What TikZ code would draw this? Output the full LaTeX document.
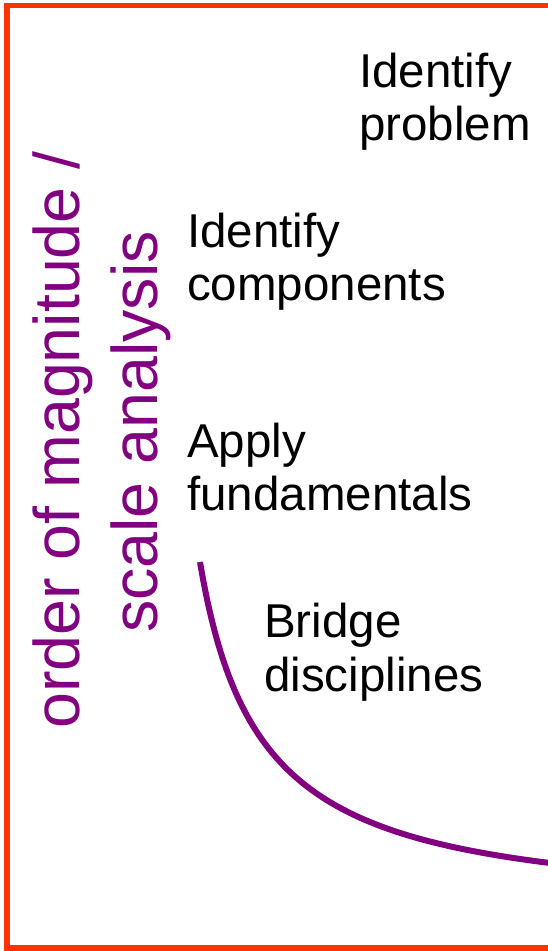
\documentclass[tikz,border=0pt]{standalone}
\usepackage{fontspec}
\setmainfont{Liberation Sans}
\definecolor{frameorange}{HTML}{FF3300}
\definecolor{scalepurple}{RGB}{128,0,128}

\begin{document}
\begin{tikzpicture}[x=1pt,y=-1pt,
  stage/.style={align=left,anchor=base west,inner sep=0pt,
    font=\fontsize{47.5}{53.3}\selectfont},
  axis text/.style={rotate=90,anchor=base,inner sep=0pt,text=scalepurple,
    font=\fontsize{64.5}{78}\selectfont}]
  \clip (0,0) rectangle (548,951);

  % frame, open at the right
  \draw[frameorange, line width=5.5pt] (560,5.5) -- (7,5.5) -- (7,948) -- (560,948);

  % rotated side label
  \node[axis text] (order) at (79,440) {order of magnitude /};
  \node[axis text] (scale) at (157,432) {scale analysis};

  % base anchor sits on the second line
  \node[stage] (problem) at (359,140.5) {Identify\\problem};
  \node[stage] (components) at (187,300.5) {Identify\\components};
  \node[stage] (fundamentals) at (187,510.5) {Apply\\fundamentals};
  \node[stage] (bridge) at (264,691) {Bridge\\disciplines};

  \coordinate (start) at (200,562);
  \coordinate (end) at (550,863);
  \draw[scalepurple, line width=6pt] (start) .. controls (235,770) and (310,833) .. (end);
\end{tikzpicture}
\end{document}
